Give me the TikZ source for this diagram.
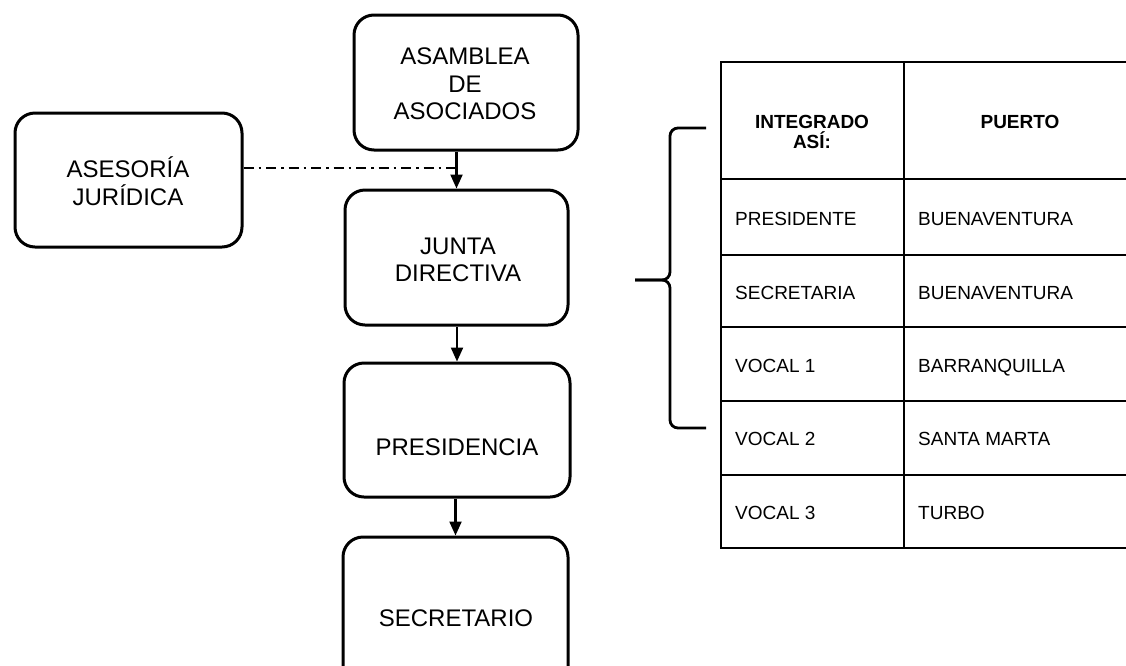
\documentclass[tikz,border=0pt]{standalone}
\usepackage{fontspec}
\setmainfont{Liberation Sans}
\usetikzlibrary{arrows.meta}
\begin{document}
\begin{tikzpicture}[x=1pt,y=-1pt,
  box/.style={draw,line width=3pt,rounded corners=20pt,inner sep=0pt},
  boxtext/.style={font=\fontsize{24}{27.5}\selectfont,align=center,inner sep=0pt},
  arr/.style={line width=2.2pt,-{Triangle[length=14pt,width=12pt]}},
  cell/.style={font=\fontsize{19}{22}\selectfont,inner sep=0pt,anchor=base west},
  head/.style={font=\bfseries\fontsize{19}{22}\selectfont,inner sep=0pt,align=center},
  tline/.style={line width=2.8pt},
  bracestyle/.style={line width=2.8pt,rounded corners=8pt},
  dashdot/.style={line width=2.2pt,dash pattern=on 10pt off 5pt on 2.5pt off 5pt}]
\useasboundingbox (0,0) rectangle (1126,665);

% boxes
\node[box,minimum width=227pt,minimum height=134pt] (ases) at (128.5,180) {};
\node[box,minimum width=224pt,minimum height=135pt] (asam) at (466,82.5) {};
\node[box,minimum width=223pt,minimum height=135pt] (junta) at (456.5,257.5) {};
\node[box,minimum width=226pt,minimum height=134pt] (pres) at (457,430) {};
\node[box,minimum width=225pt,minimum height=162pt] (secr) at (455.5,618) {};

% box texts
\node[boxtext] (asestxt) at (128,181) {ASESORÍA\\JURÍDICA};
\node[boxtext] (asamtxt) at (465,84) {ASAMBLEA\\DE\\ASOCIADOS};
\node[boxtext] (juntatxt) at (458,260) {JUNTA\\DIRECTIVA};
\node[boxtext] (prestxt) at (457,447) {PRESIDENCIA};
\node[boxtext] (secrtxt) at (456,618) {SECRETARIO};

% connectors
\draw[arr] (asam.south -| junta.north) -- (junta.north);
\draw[arr] (junta.south -| pres.north) -- (pres.north);
\draw[arr] (pres.south -| secr.north) -- (secr.north);
\draw[dashdot] ([yshift=12pt]ases.east) -- ([yshift=12pt]ases.east -| junta.north);

% table
\coordinate (tl) at (721,62);
\coordinate (br) at (1135,548);
\draw[tline] (tl) rectangle (br);
\draw[tline] (904,62) -- (904,548);
\foreach \yy in {179,255,327,401,475}
  \draw[tline] (721,\yy) -- (1135,\yy);

\node[head] (h1) at (812,132) {INTEGRADO\\[-2pt]ASÍ:};
\node[head] (h2) at (1020,122) {PUERTO};

\node[cell] (c11) at (735,225) {PRESIDENTE};
\node[cell] (c12) at (918,225) {BUENAVENTURA};
\node[cell] (c21) at (735,299) {SECRETARIA};
\node[cell] (c22) at (918,299) {BUENAVENTURA};
\node[cell] (c31) at (735,372) {VOCAL 1};
\node[cell] (c32) at (918,372) {BARRANQUILLA};
\node[cell] (c41) at (735,445) {VOCAL 2};
\node[cell] (c42) at (918,445) {SANTA MARTA};
\node[cell] (c51) at (735,519) {VOCAL 3};
\node[cell] (c52) at (918,519) {TURBO};

% brace
\draw[bracestyle] (706,128) -- (670,128) -- (670,280) -- (635,280);
\draw[bracestyle] (635,280) -- (670,280) -- (670,428) -- (706,428);
\end{tikzpicture}
\end{document}
